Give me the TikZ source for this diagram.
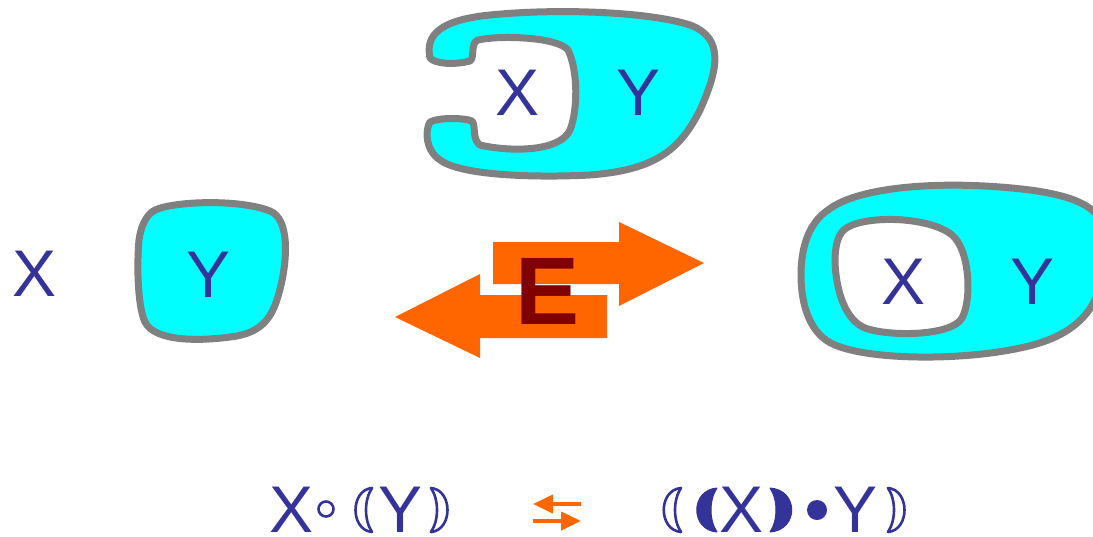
\documentclass[tikz,border=0pt]{standalone}
\usepackage{fontspec}
\setmainfont{Liberation Sans}
\usetikzlibrary{arrows.meta}
\definecolor{txtblue}{HTML}{333399}
\definecolor{blobcyan}{HTML}{00FFFF}
\definecolor{blobgray}{HTML}{808080}
\definecolor{arrorange}{HTML}{FF6600}
\definecolor{edark}{HTML}{800000}
\tikzset{
  lbl/.style={inner sep=0pt, text=txtblue, text depth=0pt, font=\fontsize{66}{66}\selectfont},
  blob/.style={fill=blobcyan, draw=blobgray, line width=7pt, line join=round},
  hole/.style={fill=white, draw=blobgray, line width=7pt, line join=round},
  bigarrow/.style={fill=arrorange, draw=none},
  hollowbr/.style={draw=txtblue, line width=2.6pt, line join=round},
  filledbr/.style={fill=txtblue, draw=txtblue, line width=1pt, line join=round},
  smallarrow/.style={draw=arrorange, line width=4pt, -{Triangle[length=20pt,width=18pt]}}
}
\begin{document}
\begin{tikzpicture}[x=1pt,y=-1pt]
\useasboundingbox (0,0) rectangle (1093,536);
\clip (0,0) rectangle (1093,536);

% ---- left: X and Y blob
\node[lbl] (xl) at (34.5,274) {X};
\draw[blob] (155,210) .. controls (175,201) and (240,199) .. (270,211)
  .. controls (290,219) and (287,260) .. (281,285)
  .. controls (274,315) and (265,333) .. (230,337)
  .. controls (200,341) and (155,342) .. (145,322)
  .. controls (137,305) and (137,260) .. (139,240)
  .. controls (141,225) and (147,214) .. (155,210) -- cycle;
\node[lbl] (yl) at (209,275) {Y};

% ---- top: C-shaped blob
\draw[blob] (430,58)
  .. controls (425,35) and (440,20) .. (490,15)
  .. controls (560,8) and (650,12) .. (690,25)
  .. controls (725,38) and (718,70) .. (700,110)
  .. controls (680,150) and (655,170) .. (590,175)
  .. controls (530,178) and (460,175) .. (440,160)
  .. controls (425,150) and (425,130) .. (430,122)
  .. controls (440,117) and (465,118) .. (472,121)
  .. controls (476,125) and (472,140) .. (480,145)
  .. controls (510,152) and (560,152) .. (570,130)
  .. controls (578,110) and (578,70) .. (568,50)
  .. controls (558,37) and (500,35) .. (478,40)
  .. controls (470,43) and (475,58) .. (470,61)
  .. controls (455,65) and (435,64) .. (430,58) -- cycle;
\node[lbl] (xt) at (518,93) {X};
\node[lbl] (yt) at (639,93) {Y};

% ---- right: nested blob
\draw[blob] (828,210) .. controls (860,185) and (950,180) .. (1030,190)
  .. controls (1090,198) and (1110,215) .. (1105,250)
  .. controls (1105,300) and (1085,335) .. (1020,348)
  .. controls (960,361) and (870,360) .. (835,345)
  .. controls (810,335) and (801,305) .. (801,275)
  .. controls (801,245) and (810,222) .. (828,210) -- cycle;
\draw[hole] (848,227) .. controls (870,215) and (930,217) .. (952,235)
  .. controls (970,250) and (972,300) .. (962,318)
  .. controls (952,336) and (890,337) .. (865,328)
  .. controls (845,320) and (836,290) .. (835,262)
  .. controls (835,245) and (838,232) .. (848,227) -- cycle;
\node[lbl] (xr) at (904,282) {X};
\node[lbl] (yr) at (1033,282) {Y};

% ---- central arrows with E
\fill[bigarrow] (493,242) -- (619,242) -- (619,222) -- (704,263) -- (619,306)
  -- (619,284) -- (493,284) -- cycle;
\fill[bigarrow] (607,295) -- (480,295) -- (480,274) -- (395,317) -- (480,358)
  -- (480,338) -- (607,338) -- cycle;
\node[inner sep=0pt, text=edark, text depth=0pt, font=\fontsize{96}{96}\selectfont\bfseries] (e) at (548,291.5) {E};

% ---- bottom formula: left side
\node[lbl] (fx1) at (291.5,509.5) {X};
\draw[txtblue, line width=2.6pt] (326,509) circle[radius=7.5];
\draw[hollowbr] (372,488) .. controls (350,490) and (350,530) .. (372,532)
  .. controls (364,520) and (364,500) .. (372,488) -- cycle;
\node[lbl] (fy1) at (400.5,509.5) {Y};
\draw[hollowbr] (431,488) .. controls (453,490) and (453,530) .. (431,532)
  .. controls (439,520) and (439,500) .. (431,488) -- cycle;

% ---- bottom: exchange arrows
\coordinate (ta) at (581,504);
\coordinate (tb) at (533,504);
\coordinate (ba) at (533,521);
\coordinate (bb) at (581,521);
\draw[smallarrow] (ta) -- (tb);
\draw[smallarrow] (ba) -- (bb);

% ---- bottom formula: right side
\draw[hollowbr] (681,488) .. controls (658,490) and (658,530) .. (681,532)
  .. controls (673,520) and (673,500) .. (681,488) -- cycle;
\draw[filledbr] (717,488) .. controls (690,490) and (690,530) .. (717,532)
  .. controls (709,520) and (709,500) .. (717,488) -- cycle;
\node[lbl] (fx2) at (742,509.5) {X};
\draw[filledbr] (770,488) .. controls (799,490) and (799,530) .. (770,532)
  .. controls (778,520) and (778,500) .. (770,488) -- cycle;
\fill[txtblue] (817,510) circle[radius=10];
\node[lbl] (fy2) at (856,509.5) {Y};
\draw[hollowbr] (888,488) .. controls (910,490) and (910,530) .. (888,532)
  .. controls (896,520) and (896,500) .. (888,488) -- cycle;
\end{tikzpicture}
\end{document}
